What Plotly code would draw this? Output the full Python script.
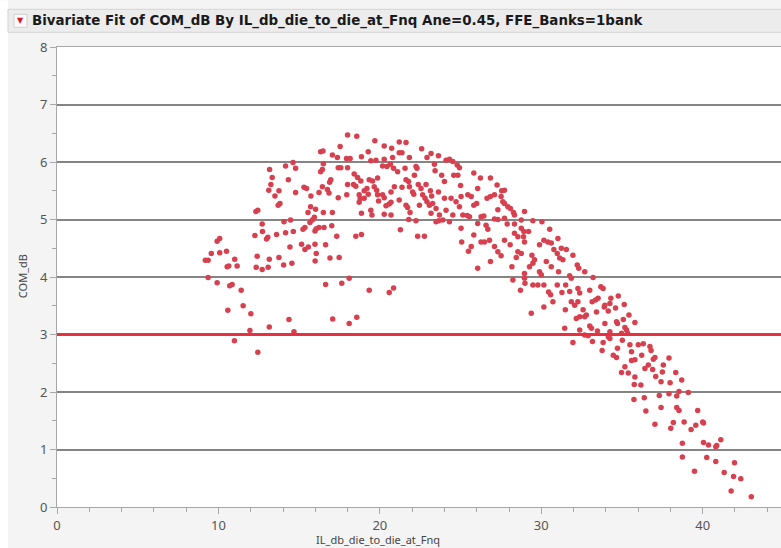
import plotly.graph_objects as go

# ---- data (IL_db_die_to_die_at_Fnq, COM_dB) ----
pts_left = [(9.19,4.29),(9.36,4.29),(9.56,4.41),(9.92,4.62),(10.08,4.67),(10.08,4.42),(10.5,4.45),
            (10.54,4.18),(10.64,4.19),(11.01,4.31),(11.16,4.19),(9.36,3.99),(9.92,3.90),(10.7,3.85),
            (10.85,3.87),(11.41,3.77),(11.53,3.50),(10.58,3.42),(12.01,3.36),(11.95,3.07),(10.99,2.89),
            (12.44,2.69),(13.15,3.13),(14.37,3.26),(14.68,3.05),(17.08,3.27),(16.64,3.87)]

pts_rise = [(12.32,5.14),(12.44,5.16),(12.26,4.72),(12.71,4.92),(12.73,4.79),(12.98,4.66),(13.06,4.69),
            (12.4,4.36),(12.34,4.17),(12.71,4.13),(13.08,4.17),(13.15,4.31),(13.6,4.74),(13.75,4.34),
            (14.04,4.21),(14.16,4.77),(14.06,4.96),(14.47,4.99),(14.43,4.52),(14.55,4.24),(14.64,4.79),
            (13.17,5.87),(13.33,5.73),(13.25,5.61),(13.12,5.51),(13.5,5.41),(13.75,5.5),(13.7,5.25),
            (13.81,5.28),(14.16,5.93),(14.62,5.99),(14.78,5.89),(14.33,5.69),(14.78,5.47),(15.15,4.57),
            (15.24,4.83),(15.36,4.86),(15.36,4.48),(15.57,4.52),(15.55,5.12),(15.71,5.22),(15.73,5.41),
            (15.3,5.56),(15.46,5.54),(15.67,4.95),(15.82,4.99),(15.94,5.04),(16.02,5.18),(15.98,4.8),
            (16.06,4.84),(16.23,4.86),(16.54,4.86),(15.98,4.57),(16.06,4.41),(15.99,4.28),(16.23,5.47),
            (16.5,5.12),(16.64,4.56),(16.91,4.33),(17.02,4.89),(17.06,5.12),(16.75,5.52),(16.85,5.46),
            (16.89,5.65),(16.96,5.69),(16.33,5.83),(16.44,5.87),(16.5,5.97),(16.33,6.18),(16.48,6.19),
            (17.06,6.12),(16.44,5.57)]

pts_peak = [(18.0,6.47),(18.57,6.45),(17.54,6.27),(17.37,6.08),(17.93,6.06),(18.16,6.06),(17.42,5.9),
            (17.58,5.9),(18.0,5.9),(18.86,6.09),(19.28,6.18),(19.69,6.37),(20.27,6.28),(20.73,6.24),
            (21.2,6.35),(21.62,6.34),(21.2,6.16),(21.37,6.16),(21.83,6.08),(22.59,6.23),(23.17,6.15),
            (22.92,6.08),(23.63,6.11),(24.1,6.03),(24.31,6.05),(19.44,6.02),(19.76,6.03),(20.27,6.05),
            (20.79,6.08),(20.44,5.92),(20.65,5.96),(20.17,5.93),(21.56,5.89),(20.85,5.89),(21.1,5.83),
            (22.24,5.92),(23.38,5.96),(23.42,5.85),(23.83,5.77),(24.0,5.66),(24.52,6.01),(24.79,5.95),
            (24.93,5.9),(24.58,5.77),(24.83,5.77),(25.0,5.59),(25.82,5.81),(18.41,5.79),(18.62,5.73),
            (18.82,5.67),(18.0,5.61),(18.37,5.61),(18.51,5.58),(17.42,5.38),(17.95,5.43),(18.72,5.43),
            (19.03,5.5),(19.2,5.54),(19.34,5.69),(19.55,5.67),(19.86,5.72),(19.65,5.57),(19.8,5.51),
            (19.86,5.43),(19.28,5.44),(18.72,5.3),(18.78,5.36),(19.03,5.37),(20.17,5.43),(20.27,5.38),
            (19.92,5.32),(20.58,5.27),(20.69,5.3),(20.38,5.24),(19.44,5.16),(19.51,5.08),(18.86,5.11),
            (20.27,5.09),(20.69,5.08),(20.69,5.48),(20.9,5.57),(21.37,5.56),(21.62,5.69),(21.78,5.66),
            (21.83,5.57),(22.03,5.48),(22.1,5.44),(21.2,5.34),(21.62,5.25),(21.72,5.21),(21.87,5.12),
            (21.79,5.0),(22.24,4.98),(22.14,5.77),(22.3,5.89),(22.38,5.61),(22.55,5.54),(22.65,5.43),
            (22.8,5.37),(22.92,5.31),(22.45,5.25),(22.86,5.61),(23.13,5.5),(23.21,5.41),(23.07,5.25),
            (23.27,5.28),(23.48,5.19),(23.17,5.11),(23.63,5.48),(24.0,5.37),(23.69,5.08),(23.48,4.96),
            (23.65,4.98),(23.9,4.99),(24.31,4.96),(24.1,5.16),(24.41,5.37),(24.52,5.08),(24.72,5.31),
            (24.93,5.22),(25.03,5.4),(25.45,5.43),(25.66,5.4),(25.14,5.08),(25.41,5.07),(25.55,5.05),
            (25.82,5.25),(25.03,4.85),(25.07,4.61),(25.49,4.45),(25.66,4.53),(25.82,4.73),(17.33,4.71),
            (18.51,4.71),(18.86,4.74),(21.27,4.82),(22.34,4.71),(22.76,4.71),(17.48,4.34),(18.1,3.98),
            (17.64,3.89),(19.34,3.77),(20.58,3.73),(20.85,3.81),(18.57,3.3),(18.1,3.19)]

pts_fall = [(26.23,5.72),(26.85,5.72),(26.06,5.54),(27.26,5.6),(27.55,5.5),(27.72,5.51),(26.64,5.37),
            (26.85,5.4),(27.1,5.43),(27.51,5.4),(27.62,5.31),(27.72,5.28),(27.93,5.22),(28.09,5.19),
            (27.31,5.17),(28.28,5.12),(28.34,5.08),(28.96,5.14),(26.0,5.28),(26.27,5.05),(26.44,5.06),
            (26.06,4.93),(26.58,4.9),(26.69,4.83),(27.1,5.01),(27.31,5.0),(27.72,5.02),(27.89,4.92),
            (28.34,4.92),(28.76,4.99),(29.48,4.98),(30.04,4.96),(28.76,4.85),(28.92,4.79),(28.34,4.76),
            (29.21,4.79),(28.55,4.7),(28.9,4.7),(28.96,4.61),(30.52,4.83),(30.16,4.64),(30.41,4.61),
            (30.62,4.59),(31.03,4.67),(26.27,4.61),(26.48,4.61),(26.79,4.64),(27.1,4.53),(27.31,4.44),
            (27.51,4.37),(27.72,4.64),(28.07,4.56),(28.55,4.44),(28.76,4.41),(28.45,4.34),(29.42,4.38),
            (29.58,4.3),(29.48,4.24),(29.27,4.18),(29.89,4.56),(30.31,4.27),(30.62,4.18),(30.78,4.48),
            (30.99,4.41),(31.24,4.5),(31.55,4.48),(31.14,4.33),(31.34,4.3),(31.96,4.38),(32.23,4.21),
            (32.32,4.15),(32.69,4.09),(29.89,4.09),(30.0,4.04),(31.07,4.09),(31.76,4.02),(31.86,3.98),
            (28.96,4.06),(28.96,3.98),(26.06,4.15),(26.85,4.27),(28.18,4.18),(28.24,3.95),(28.99,3.89),
            (28.71,3.77),(29.48,3.86),(29.79,3.86),(30.16,3.86),(30.45,3.74),(30.58,3.69),(30.72,3.57),
            (30.99,3.86),(31.28,3.73),(31.51,3.86),(31.76,3.75),(32.27,3.8),(32.38,3.72),(32.27,3.57),
            (31.86,3.57),(32.07,3.51),(31.49,3.43),(30.16,3.48),(29.38,3.37),(33.0,3.77),(32.59,3.43),
            (32.69,3.31),(32.38,3.31),(32.17,3.28),(32.79,3.34),(33.0,3.15),(31.45,3.11),(32.38,3.08),
            (32.69,2.99),(32.9,2.98),(31.96,2.86)]

pts_tail = [(33.21,3.99),(33.69,3.83),(33.83,3.8),(33.52,3.63),(33.36,3.6),(33.15,3.57),(33.94,3.51),
            (33.9,3.48),(34.31,3.63),(34.25,3.54),(34.77,3.67),(34.6,3.46),(35.14,3.52),(34.15,3.41),
            (33.42,3.39),(34.66,3.22),(34.72,3.19),(35.08,3.26),(35.43,3.34),(35.8,3.21),(33.94,3.19),
            (35.18,3.12),(35.28,3.08),(33.11,3.11),(33.48,3.06),(34.25,3.05),(34.15,2.96),(34.97,3.02),
            (35.02,2.9),(35.35,3.02),(33.17,2.88),(33.83,2.86),(34.25,2.93),(33.77,2.72),(34.72,2.76),
            (34.46,2.64),(34.66,2.6),(35.49,2.82),(35.59,2.7),(36.01,2.82),(36.32,2.84),(36.73,2.79),
            (36.8,2.72),(36.22,2.64),(35.59,2.55),(35.8,2.56),(35.18,2.44),(34.97,2.34),(35.39,2.33),
            (35.8,2.26),(35.76,2.13),(36.17,2.12),(36.42,2.41),(36.63,2.47),(36.9,2.39),(37.09,2.27),
            (36.94,2.57),(37.04,2.6),(37.56,2.47),(37.91,2.59),(37.5,2.35),(37.42,2.18),(37.98,2.16),
            (38.33,2.34),(38.7,2.21),(38.53,2.01),(38.39,1.93),(39.11,1.99),(37.91,1.97),(37.31,1.94),
            (35.74,1.87),(36.38,1.9),(37.42,1.73),(38.39,1.73),(38.53,1.68),(36.48,1.67),(39.69,1.68),
            (37.04,1.44),(38.18,1.47),(38.02,1.37),(38.85,1.48),(39.28,1.35),(39.57,1.42),(40.05,1.46),
            (40.0,1.48),(38.74,1.11),(40.05,1.12),(40.36,1.08),(40.81,1.05),(40.87,1.07),(41.12,1.17),
            (38.74,0.87),(40.25,0.86),(40.81,0.79),(39.49,0.62),(41.97,0.77),(41.33,0.6),(41.91,0.53),
            (42.36,0.49),(41.76,0.28),(43.01,0.18)]

com_limit = 3.0
x_range = [0, 44.85]
y_range = [0, 8]
title_text = "Bivariate Fit of COM_dB By IL_db_die_to_die_at_Fnq Ane=0.45, FFE_Banks=1bank"
x_title = "IL_db_die_to_die_at_Fnq"
y_title = "COM_dB"

all_pts = pts_left + pts_rise + pts_peak + pts_fall + pts_tail
il = [p[0] for p in all_pts]
com = [p[1] for p in all_pts]

FONT = "Noto Sans"
fig = go.Figure()
fig.add_trace(go.Scatter(x=il, y=com, mode="markers",
                         marker=dict(size=5.5, color="#d7404f"),
                         hoverinfo="x+y", showlegend=False))
fig.add_hline(y=com_limit, line=dict(color="#e8313f", width=3), layer="above")

# the page body margin is removed (see post_script), so figure == window
W, H = 781, 548
PL, PR, PT, PB = 57, 781, 46.7, 507      # plot area in page pixels
L, T, R, B = PL, PT, W - PR, H - PB
pw, ph = PR - PL, PB - PT
def px(x):
    return (x - PL) / pw
def py(y):
    return (PB - y) / ph

fig.update_layout(
    width=W, height=H,
    margin=dict(l=L, r=R, t=T, b=B, pad=0),
    paper_bgcolor="#f4f4f4", plot_bgcolor="white",
    font=dict(family=FONT, color="#555555", size=13),
    xaxis=dict(range=x_range, dtick=10, tick0=0, showgrid=False, zeroline=False,
               showline=True, linecolor="#a8a8a8", linewidth=1, mirror=True,
               ticks="outside", ticklen=6, tickcolor="#a8a8a8",
               minor=dict(dtick=2, ticklen=4, tickcolor="#a8a8a8", ticks="outside", showgrid=False),
               tickfont=dict(size=13, color="#555555")),
    yaxis=dict(range=y_range, dtick=1, tick0=0, showgrid=True, gridcolor="#858585", gridwidth=1.5,
               zeroline=False, showline=True, linecolor="#a8a8a8", linewidth=1,
               ticks="outside", ticklen=6, tickcolor="#a8a8a8",
               minor=dict(dtick=0.5, ticklen=4, tickcolor="#a8a8a8", ticks="outside", showgrid=False),
               tickfont=dict(size=13, color="#555555")),
    shapes=[
        dict(type="rect", xref="paper", yref="paper", x0=px(0), x1=px(W), y0=py(8), y1=py(0),
             fillcolor="white", line=dict(width=0), layer="below"),
        dict(type="rect", xref="paper", yref="paper", x0=px(0), x1=px(8), y0=py(H), y1=py(0),
             fillcolor="white", line=dict(width=0), layer="below"),
        dict(type="rect", xref="paper", yref="paper", x0=px(8), x1=px(W + 2), y0=py(32), y1=py(9),
             fillcolor="#ececec", line=dict(color="#d4d4d4", width=1), layer="below"),
        dict(type="rect", xref="paper", yref="paper", x0=px(14), x1=px(27), y0=py(27), y1=py(14),
             fillcolor="#fafafa", line=dict(color="#d0d0d0", width=1), layer="above"),
    ],
    annotations=[
        dict(text="▼", x=px(20.5), y=py(20.5), xref="paper", yref="paper", showarrow=False,
             xanchor="center", yanchor="middle", font=dict(size=8, color="#d01c2c", family="DejaVu Sans")),
        dict(text="<b>" + title_text + "</b>", x=px(30), y=py(20.5), xref="paper", yref="paper",
             showarrow=False, xanchor="left", yanchor="middle",
             font=dict(size=13.4, color="#1a1a1a", family="DejaVu Sans")),
        dict(text=x_title, x=px(378), y=py(540), xref="paper", yref="paper", showarrow=False,
             xanchor="center", yanchor="middle", font=dict(size=11, color="#444444", family=FONT)),
        dict(text=y_title, x=px(22), y=py(276), xref="paper", yref="paper", showarrow=False,
             textangle=-90, xanchor="center", yanchor="middle",
             font=dict(size=11, color="#444444", family=FONT)),
    ],
)

fig.write_html("out.html", config={"displayModeBar": False},
               post_script="document.body.style.margin='0';document.body.style.overflow='hidden';")
